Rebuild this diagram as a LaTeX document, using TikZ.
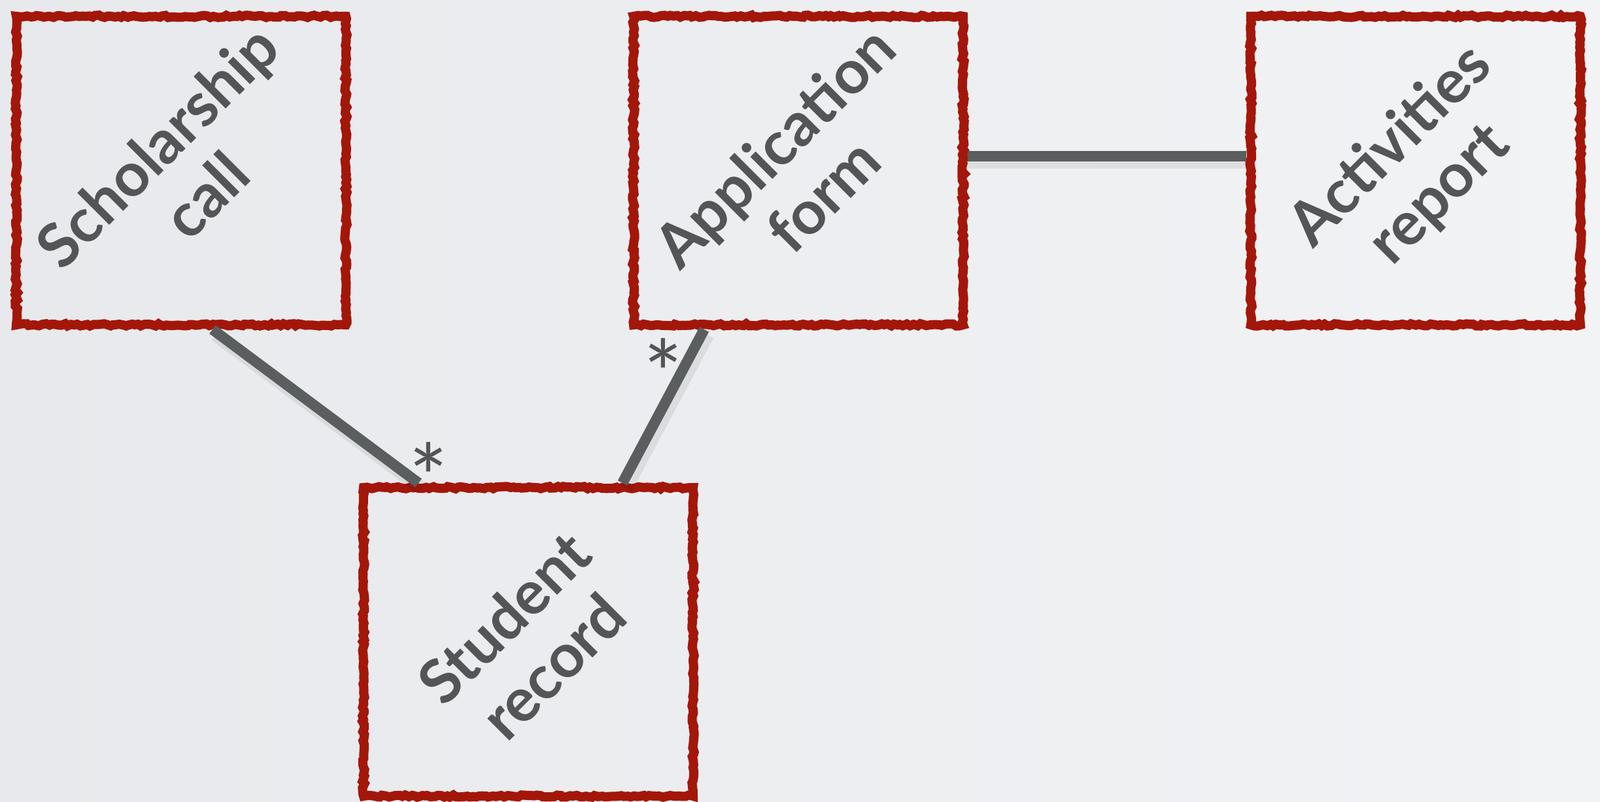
\documentclass[tikz,border=0pt]{standalone}
\usepackage{fontspec}
\setmainfont{Lato}
\usetikzlibrary{calc,decorations.pathmorphing}
\usepackage{xcolor}
\definecolor{stampred}{HTML}{A3170A}
\definecolor{inkgray}{HTML}{535556}
\definecolor{linegray}{HTML}{5A5E5E}
\definecolor{bgleft}{HTML}{E7E9EC}
\definecolor{bgright}{HTML}{F2F3F5}

\tikzset{
    entity/.style={draw=stampred, line width=4pt, rectangle,
        minimum width=5.04cm, minimum height=4.72cm,
        decorate, decoration={random steps, segment length=1.4pt, amplitude=0.5pt}},
    entitylabel/.style={rotate=45, text=inkgray, align=center,
        font=\fontsize{26.5}{30}\selectfont\bfseries},
    assoc/.style={draw=linegray, line width=4.6pt},
    assocshadow/.style={draw=black, opacity=0.07, line width=6pt},
    mult/.style={text=inkgray, font=\fontsize{40}{40}\selectfont}
}

\begin{document}
\begin{tikzpicture}
    % Background
    \shade[left color=bgleft, right color=bgright] (0,0) rectangle (24.47,12.27);
    \useasboundingbox (0,0) rectangle (24.47,12.27);
    % Entities
    \node[entity] (call) at (2.77,9.66) {};
    \node[entity] (form) at (12.21,9.66) {};
    \node[entity] (report) at (21.65,9.66) {};
    \node[entity] (record) at (8.08,2.45) {};
    % Entity names
    \node[entitylabel] (calltext) at (call.center) {Scholarship\\call};
    \node[entitylabel] (formtext) at (form.center) {Application\\form};
    \node[entitylabel] (reporttext) at (report.center) {Activities\\report};
    \node[entitylabel] (recordtext) at (record.center) {Student\\record};
    % Connector end points
    \coordinate (callout) at ([xshift=0.48cm]call.south);
    \coordinate (recin1) at ([xshift=-1.68cm]record.north);
    \coordinate (formout) at ([xshift=-1.44cm]form.south);
    \coordinate (recin2) at ([xshift=1.44cm]record.north);
    \coordinate (formright) at ([yshift=0.22cm]form.east);
    \coordinate (reportleft) at ([yshift=0.22cm]report.west);
    % Shadows
    \draw[assocshadow] ([shift={(0.05,-0.08)}]callout) -- ([shift={(0.05,-0.08)}]recin1);
    \draw[assocshadow] ([shift={(0.05,-0.08)}]formout) -- ([shift={(0.05,-0.08)}]recin2);
    \draw[assocshadow] ([shift={(0,-0.08)}]formright) -- ([shift={(0,-0.08)}]reportleft);
    % Associations
    \draw[assoc] (callout) -- (recin1);
    \draw[assoc] (formout) -- (recin2);
    \draw[assoc] (formright) -- (reportleft);
    % Multiplicities
    \node[mult] (m1) at ($(recin1)+(0.15,0.09)$) {*};
    \node[mult] (m2) at ($(formout)+(-0.63,-0.67)$) {*};
\end{tikzpicture}
\end{document}
